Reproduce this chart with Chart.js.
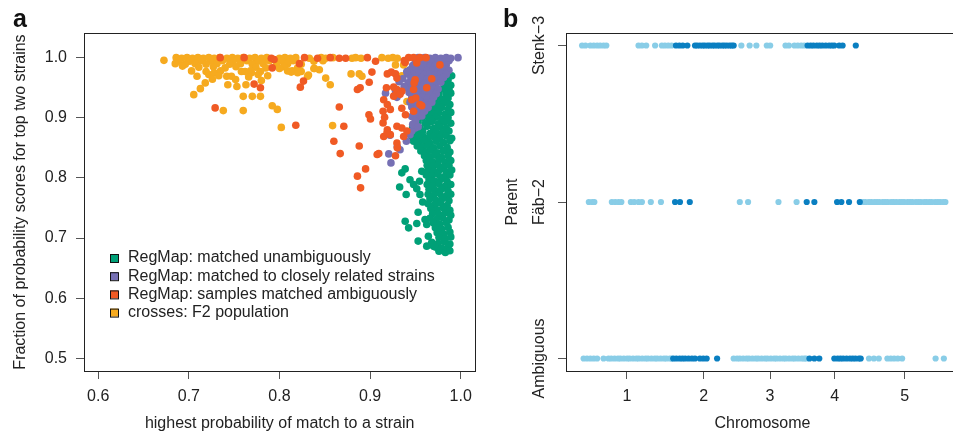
<!DOCTYPE html>
<html>
<head>
<meta charset="utf-8">
<script src="https://cdn.jsdelivr.net/npm/chart.js@4.4.0/dist/chart.umd.min.js"></script>
<style>
  html, body { margin: 0; padding: 0; background: #fff; overflow: hidden; }
  #wrap { position: relative; width: 953px; height: 435px; overflow: hidden; }
  #panelA { position: absolute; left: 0; top: 0; }
  #panelB { position: absolute; left: 480px; top: 0; }
</style>
</head>
<body>
<div id="wrap">
  <canvas id="panelA" width="480" height="435"></canvas>
  <canvas id="panelB" width="482" height="435"></canvas>
</div>
<script>
// ---- panel a: [highest probability, fraction of top two] ----
const unambiguous = [
  [0.990,0.970],[0.986,0.963],[0.983,0.956],[0.989,0.954],[0.980,0.948],[0.987,0.947],
  [0.976,0.941],[0.984,0.939],[0.989,0.941],[0.972,0.933],[0.979,0.931],[0.986,0.933],
  [0.968,0.925],[0.975,0.923],[0.982,0.925],[0.988,0.922],
  [0.965,0.917],[0.972,0.915],[0.979,0.917],[0.986,0.914],
  [0.962,0.909],[0.969,0.907],[0.976,0.909],[0.983,0.906],[0.989,0.909],
  [0.958,0.901],[0.965,0.899],[0.972,0.901],[0.979,0.898],[0.986,0.900],
  [0.953,0.893],[0.961,0.891],[0.968,0.894],[0.975,0.890],[0.982,0.893],[0.989,0.891],
  [0.947,0.885],[0.955,0.883],[0.963,0.886],[0.970,0.882],[0.977,0.885],[0.984,0.883],
  [0.945,0.877],[0.951,0.875],[0.958,0.878],[0.966,0.874],[0.973,0.877],[0.980,0.875],[0.987,0.878],
  [0.946,0.869],[0.952,0.867],[0.958,0.870],[0.964,0.866],[0.970,0.869],[0.977,0.867],[0.984,0.870],[0.990,0.866],
  [0.948,0.861],[0.954,0.859],[0.960,0.862],[0.966,0.858],[0.973,0.861],[0.981,0.859],[0.988,0.862],
  [0.952,0.853],[0.958,0.851],[0.964,0.854],[0.970,0.850],[0.977,0.853],[0.985,0.851],
  [0.956,0.845],[0.962,0.843],[0.968,0.846],[0.974,0.842],[0.981,0.845],[0.988,0.843],
  [0.960,0.837],[0.966,0.835],[0.972,0.838],[0.979,0.834],[0.986,0.837],
  [0.962,0.829],[0.969,0.827],[0.976,0.830],[0.983,0.826],[0.989,0.829],
  [0.963,0.821],[0.969,0.819],[0.975,0.822],[0.981,0.818],[0.987,0.821],
  [0.964,0.813],[0.970,0.811],[0.977,0.814],[0.984,0.810],[0.990,0.813],
  [0.962,0.805],[0.968,0.803],[0.975,0.806],[0.982,0.802],[0.988,0.805],
  [0.965,0.797],[0.971,0.795],[0.978,0.798],[0.985,0.794],
  [0.963,0.789],[0.969,0.787],[0.976,0.790],[0.983,0.786],[0.989,0.789],
  [0.965,0.781],[0.972,0.779],[0.979,0.782],[0.986,0.778],
  [0.964,0.773],[0.970,0.771],[0.977,0.774],[0.984,0.770],[0.989,0.773],
  [0.966,0.765],[0.973,0.763],[0.980,0.766],[0.987,0.762],
  [0.964,0.757],[0.971,0.755],[0.978,0.758],[0.985,0.754],
  [0.967,0.749],[0.974,0.747],[0.981,0.750],[0.988,0.746],
  [0.969,0.741],[0.976,0.739],[0.983,0.742],[0.989,0.738],
  [0.966,0.733],[0.973,0.731],[0.980,0.734],[0.987,0.730],
  [0.970,0.725],[0.977,0.723],[0.984,0.726],
  [0.972,0.717],[0.979,0.715],[0.986,0.718],
  [0.974,0.709],[0.981,0.707],[0.988,0.710],
  [0.976,0.701],[0.983,0.699],[0.989,0.702],
  [0.968,0.693],[0.975,0.691],[0.982,0.694],[0.988,0.690],
  [0.972,0.685],[0.979,0.683],[0.986,0.686],
  [0.976,0.678],[0.983,0.676],[0.988,0.679],
  [0.9387,0.815],[0.935,0.8085],[0.9326,0.785],[0.9398,0.7724],[0.944,0.797],[0.948,0.789],
  [0.9515,0.782],[0.9545,0.7945],[0.955,0.7724],[0.957,0.811],[0.9387,0.728],[0.9425,0.717],
  [0.953,0.743],[0.9515,0.7243],[0.9606,0.731],[0.9625,0.7226],[0.953,0.695],[0.9643,0.703],
  [0.9625,0.6866],[0.970,0.6866],[0.958,0.760]
];
const closelyRelated = [
  [0.953,1.000],[0.960,1.000],[0.966,0.999],[0.972,1.000],[0.978,0.999],[0.984,1.000],[0.989,0.999],[0.997,1.000],
  [0.950,0.994],[0.957,0.993],[0.963,0.995],[0.969,0.993],[0.975,0.994],[0.981,0.993],[0.987,0.995],
  [0.947,0.987],[0.954,0.986],[0.960,0.988],[0.966,0.986],[0.972,0.987],[0.978,0.985],[0.984,0.988],
  [0.944,0.980],[0.951,0.979],[0.957,0.981],[0.963,0.979],[0.969,0.980],[0.975,0.978],[0.981,0.981],[0.987,0.979],
  [0.941,0.973],[0.948,0.972],[0.954,0.974],[0.960,0.972],[0.966,0.973],[0.972,0.971],[0.978,0.974],[0.984,0.972],
  [0.945,0.966],[0.951,0.965],[0.957,0.967],[0.963,0.965],[0.969,0.966],[0.975,0.964],[0.981,0.967],
  [0.942,0.958],[0.948,0.957],[0.954,0.959],[0.960,0.957],[0.966,0.958],[0.972,0.956],[0.978,0.959],
  [0.945,0.950],[0.951,0.949],[0.957,0.951],[0.963,0.949],[0.969,0.950],[0.975,0.948],
  [0.943,0.942],[0.949,0.941],[0.955,0.943],[0.961,0.941],[0.967,0.942],[0.973,0.940],
  [0.946,0.934],[0.952,0.933],[0.958,0.935],[0.964,0.933],[0.970,0.934],
  [0.944,0.926],[0.950,0.925],[0.956,0.927],[0.962,0.925],[0.968,0.926],
  [0.946,0.918],[0.952,0.917],[0.958,0.919],[0.964,0.917],
  [0.948,0.910],[0.954,0.909],[0.960,0.911],
  [0.946,0.902],[0.952,0.901],[0.957,0.903],[0.950,0.894],
  [0.9376,0.952],[0.9405,0.977],[0.936,0.965],[0.917,0.941],[0.9296,0.934],[0.938,0.950],
  [0.922,0.871],[0.9206,0.840],[0.923,0.825],[0.930,0.852],[0.933,0.847],[0.9497,0.883],
  [0.946,0.878],[0.944,0.872],[0.940,0.861],[0.947,0.889],[0.953,0.885],[0.932,0.960],[0.928,0.945]
];
const ambiguousMatch = [
  [0.7346,1.000],[0.761,1.000],[0.791,0.999],[0.794,0.997],[0.8276,1.000],[0.842,0.999],
  [0.856,1.000],[0.866,0.999],[0.873,0.999],[0.897,1.000],[0.906,0.994],[0.9377,0.995],
  [0.9425,1.000],[0.948,1.000],[0.955,1.000],[0.9617,1.000],[0.9515,0.991],[0.9387,0.992],
  [0.792,0.983],[0.822,0.990],[0.8265,0.961],[0.823,0.951],[0.772,0.956],[0.779,0.950],
  [0.729,0.9165],[0.818,0.8875],[0.977,0.988],[0.886,0.947],[0.889,0.950],[0.899,0.959],
  [0.902,0.976],[0.919,0.973],[0.9234,0.976],[0.928,0.973],[0.9296,0.966],[0.918,0.950],
  [0.926,0.951],[0.9296,0.941],[0.935,0.944],[0.915,0.930],[0.919,0.922],[0.9223,0.914],
  [0.9143,0.911],[0.916,0.901],[0.9143,0.8915],[0.919,0.880],[0.9223,0.872],[0.926,0.936],
  [0.9296,0.947],[0.933,0.939],[0.9296,0.886],[0.935,0.883],[0.937,0.869],[0.9406,0.878],
  [0.939,0.905],[0.935,0.916],[0.8987,0.905],[0.9004,0.898],[0.866,0.918],[0.871,0.886],
  [0.860,0.861],[0.867,0.8405],[0.888,0.853],[0.9078,0.839],[0.9096,0.8405],[0.915,0.869],
  [0.9187,0.875],[0.928,0.837],[0.9296,0.858],[0.930,0.850],[0.948,0.947],[0.9497,0.963],
  [0.946,0.930],[0.955,0.922],[0.948,0.911],[0.9625,0.950],[0.968,0.965],[0.957,0.920],
  [0.886,0.803],[0.895,0.815],[0.8895,0.7835],[0.9486,0.958],[0.9504,0.933]
];
const crossesF2 = [
  [0.686,1.000],[0.692,0.999],[0.698,1.000],[0.704,0.999],[0.710,1.000],[0.716,0.999],[0.722,1.000],
  [0.728,0.999],[0.734,1.000],[0.742,0.999],[0.748,1.000],[0.754,0.999],[0.760,1.000],[0.767,0.999],
  [0.773,1.000],[0.780,0.999],[0.786,1.000],[0.800,0.999],[0.806,1.000],[0.812,0.999],[0.818,1.000],
  [0.833,0.999],[0.846,1.000],[0.851,0.999],[0.859,1.000],[0.880,0.999],[0.884,1.000],[0.890,0.999],
  [0.913,1.000],[0.920,0.999],[0.925,1.000],[0.930,0.999],
  [0.6725,0.9955],[0.689,0.995],[0.701,0.994],[0.713,0.995],[0.725,0.994],[0.737,0.995],[0.749,0.994],
  [0.764,0.995],[0.776,0.994],[0.789,0.995],[0.803,0.994],[0.815,0.995],[0.838,0.994],[0.848,0.995],
  [0.685,0.990],[0.696,0.989],[0.707,0.990],[0.719,0.989],[0.731,0.990],[0.745,0.989],[0.757,0.990],
  [0.770,0.989],[0.782,0.990],[0.797,0.989],[0.809,0.990],[0.824,0.989],
  [0.693,0.986],[0.711,0.984],[0.727,0.985],[0.740,0.983],[0.752,0.985],[0.774,0.984],[0.785,0.983],
  [0.805,0.985],[0.820,0.983],[0.838,0.982],
  [0.703,0.978],[0.719,0.977],[0.735,0.978],[0.758,0.977],[0.768,0.978],[0.779,0.977],[0.800,0.982],
  [0.814,0.978],[0.844,0.980],
  [0.709,0.969],[0.7054,0.9385],[0.7127,0.9485],[0.7181,0.958],[0.722,0.972],[0.728,0.975],
  [0.733,0.970],[0.738,0.912],[0.760,0.912],[0.760,0.9357],[0.770,0.9357],[0.779,0.9357],
  [0.743,0.955],[0.753,0.952],[0.763,0.955],[0.780,0.962],[0.792,0.920],[0.7976,0.914],
  [0.802,0.884],[0.824,0.977],[0.8385,0.982],[0.832,0.971],[0.851,0.966],[0.856,0.955],
  [0.879,0.973],[0.888,0.973],[0.891,0.969],[0.8586,0.887],[0.928,0.988],[0.937,0.988],
  [0.9406,0.927],[0.935,0.970],[0.7418,0.969],[0.747,0.969],[0.7516,0.9635],[0.762,0.977],
  [0.769,0.975],[0.7765,0.972],[0.787,0.970],[0.809,0.978],[0.813,0.976],[0.820,0.975],
  [0.831,0.969],[0.726,0.964],[0.766,0.968]
];
const legendLabels = [
  'RegMap: matched unambiguously',
  'RegMap: matched to closely related strains',
  'RegMap: samples matched ambiguously',
  'crosses: F2 population'
];
const xTicksA = [0.6, 0.7, 0.8, 0.9, 1.0];
const yTicksA = [0.5, 0.6, 0.7, 0.8, 0.9, 1.0];

// ---- panel b: genome position (Mb, chromosomes laid end to end) per parent call ----
const parentLabels = ['Ambiguous', 'F\u00e4b\u22122', 'Stenk\u22123'];
const chromMid = [15.2, 40.25, 61.85, 82.9, 105.7];
const chromLabels = ['1', '2', '3', '4', '5'];
const stenkLight = [0.6, 1.7, 3.3, 4.4, 5.5, 6.5, 7.6, 8.5, 19.0, 20.1, 21.5, 24.4, 26.6, 27.6, 28.7, 29.8,
  52.5, 55.2, 57.4, 60.8, 61.9, 66.9, 68.0, 69.8, 70.9, 72.0, 73.0];
const stenkDark = [31.2, 32.3, 33.4, 34.9, 37.4, 38.1, 39.0, 39.9, 40.6, 41.5, 42.2, 43.1, 43.8, 44.7, 45.4,
  46.3, 47.0, 47.8, 48.7, 49.4, 50.0, 74.1, 75.1, 76.0, 77.1, 78.0, 78.9, 80.0, 81.1, 82.0, 82.8, 84.4, 85.5, 89.8];
const fabLight = [2.8, 3.9, 4.6, 10.3, 11.4, 12.5, 13.4, 16.5, 17.6, 19.0, 20.1, 23.0, 26.3, 52.0, 54.7, 64.6, 70.5,
  92.2, 93.0, 94.1, 94.9, 95.9, 96.7, 97.5, 98.6, 99.4, 100.2, 101.3, 102.1, 103.0, 104.0, 104.8, 105.6,
  106.7, 107.5, 108.3, 109.4, 110.2, 111.0, 112.1, 112.9, 113.8, 114.6, 115.7, 116.5, 117.3, 118.3, 119.0];
const fabDark = [30.9, 32.5, 35.7, 73.8, 76.3, 83.7, 85.1, 87.6, 91.1];
const ambLight = [1.1, 2.2, 3.3, 4.4, 5.5, 7.6, 9.2, 10.1, 11.2, 12.3, 13.1, 14.2, 15.3, 16.1, 17.2, 18.3, 19.1,
  20.2, 21.3, 22.1, 23.2, 24.3, 25.1, 26.2, 27.3, 28.1, 29.2, 29.8, 50.0, 51.1, 52.0, 53.1, 54.2, 55.0,
  56.1, 57.2, 58.0, 59.1, 60.2, 61.0, 62.1, 63.2, 64.0, 65.1, 66.2, 67.0, 68.1, 69.2, 70.0, 71.1, 72.2,
  73.0, 73.6, 94.1, 95.7, 97.3, 100.1, 101.2, 102.3, 103.5, 104.9, 115.8, 118.5];
const ambDark = [30.3, 31.3, 32.4, 33.3, 34.2, 35.3, 36.4, 37.4, 39.0, 40.1, 41.2, 44.6, 74.7, 76.3, 77.9,
  82.8, 83.9, 84.8, 85.7, 86.8, 87.9, 88.8, 89.7, 90.8, 91.4];

const FONT = '"Liberation Sans", Arial, Helvetica, sans-serif';
const INK = '#222';
Chart.defaults.font.family = FONT;
Chart.defaults.color = INK;

const groupColors = ['#00A077', '#7670B4', '#F05A24', '#F6AA1F'];
const lightBlue = '#89CDE7';
const darkBlue = '#0A7FC1';

// full box around the plot region plus the panel letter
const framePlugin = {
  id: 'frame',
  afterDraw(chart, args, opts) {
    const { ctx, chartArea: a } = chart;
    ctx.save();
    ctx.strokeStyle = INK;
    ctx.lineWidth = 1;
    ctx.strokeRect(Math.round(a.left) + 0.5, Math.round(a.top) + 0.5,
      Math.round(a.right - a.left), Math.round(a.bottom - a.top));
    ctx.fillStyle = '#111';
    ctx.font = 'bold 25px ' + FONT;
    ctx.textBaseline = 'alphabetic';
    ctx.fillText(opts.letter, opts.letterX, 27);
    ctx.restore();
  }
};

const legendPlugin = {
  id: 'boxLegend',
  afterDraw(chart) {
    const { ctx, chartArea: a } = chart;
    ctx.save();
    ctx.font = '16px ' + FONT;
    ctx.textBaseline = 'middle';
    legendLabels.forEach((txt, i) => {
      const cy = 258 + i * 18.2;
      ctx.fillStyle = groupColors[i];
      ctx.fillRect(a.left + 26, cy - 4, 8, 8);
      ctx.strokeStyle = '#111';
      ctx.lineWidth = 1;
      ctx.strokeRect(a.left + 26.5, cy - 3.5, 8, 8);
      ctx.fillStyle = INK;
      ctx.fillText(txt, a.left + 44, cy);
    });
    ctx.restore();
  }
};

const parentTickPlugin = {
  id: 'parentTicks',
  afterDraw(chart) {
    const { ctx } = chart;
    const y = chart.scales.y;
    ctx.save();
    ctx.font = '16px ' + FONT;
    ctx.fillStyle = INK;
    ctx.textAlign = 'center';
    ctx.textBaseline = 'middle';
    parentLabels.forEach((lab, i) => {
      ctx.save();
      ctx.translate(60, y.getPixelForValue(i));
      ctx.rotate(-Math.PI / 2);
      ctx.fillText(lab, 0, 0);
      ctx.restore();
    });
    ctx.restore();
  }
};

const tickFont = { size: 16, family: FONT };
const titleFont = { size: 16, family: FONT };
function axisBase() {
  return {
    type: 'linear',
    grid: { display: true, drawOnChartArea: false, tickLength: 8, color: '#555', lineWidth: 1 },
    border: { display: false }
  };
}

const toPoints = arr => arr.map(p => ({ x: p[0], y: p[1] }));

// draw order: first dataset ends up on top
new Chart(document.getElementById('panelA'), {
  type: 'scatter',
  data: {
    datasets: [
      { label: legendLabels[2], data: toPoints(ambiguousMatch), backgroundColor: groupColors[2] },
      { label: legendLabels[1], data: toPoints(closelyRelated), backgroundColor: groupColors[1] },
      { label: legendLabels[3], data: toPoints(crossesF2), backgroundColor: groupColors[3] },
      { label: legendLabels[0], data: toPoints(unambiguous), backgroundColor: groupColors[0] }
    ]
  },
  options: {
    responsive: false,
    animation: false,
    devicePixelRatio: 1,
    layout: { padding: { top: 33, right: 1, left: 0, bottom: 0 } },
    elements: { point: { radius: 3.8, borderWidth: 0, hoverRadius: 3.8 } },
    plugins: {
      legend: { display: false },
      tooltip: { enabled: false },
      frame: { letter: 'a', letterX: 13 }
    },
    scales: {
      x: Object.assign(axisBase(), {
        position: 'bottom', min: 0.5843, max: 1.016,
        afterBuildTicks: s => { s.ticks = xTicksA.map(v => ({ value: v })); },
        afterFit: s => { s.height = 64; },
        ticks: { font: tickFont, color: INK, padding: 8, maxRotation: 0, callback: v => v.toFixed(1) },
        title: { display: true, text: 'highest probability of match to a strain', font: titleFont, color: INK, padding: { bottom: 2 } }
      }),
      y: Object.assign(axisBase(), {
        position: 'left', min: 0.479, max: 1.041,
        afterBuildTicks: s => { s.ticks = yTicksA.map(v => ({ value: v })); },
        afterFit: s => { s.width = 84; },
        ticks: { font: tickFont, color: INK, padding: 9, callback: v => v.toFixed(1) },
        title: { display: true, text: 'Fraction of probability scores for top two strains', font: titleFont, color: INK, padding: { top: 11 } }
      })
    }
  },
  plugins: [framePlugin, legendPlugin]
});

const rowPoints = (arr, row) => arr.map(v => ({ x: v, y: row }));

new Chart(document.getElementById('panelB'), {
  type: 'scatter',
  data: {
    datasets: [
      { data: rowPoints(stenkDark, 2), backgroundColor: darkBlue },
      { data: rowPoints(fabDark, 1), backgroundColor: darkBlue },
      { data: rowPoints(ambDark, 0), backgroundColor: darkBlue },
      { data: rowPoints(stenkLight, 2), backgroundColor: lightBlue },
      { data: rowPoints(fabLight, 1), backgroundColor: lightBlue },
      { data: rowPoints(ambLight, 0), backgroundColor: lightBlue }
    ]
  },
  options: {
    responsive: false,
    animation: false,
    devicePixelRatio: 1,
    layout: { padding: { top: 33, right: 2, left: 0, bottom: 0 } },
    elements: { point: { radius: 3.1, borderWidth: 0, hoverRadius: 3.1 } },
    plugins: {
      legend: { display: false },
      tooltip: { enabled: false },
      frame: { letter: 'b', letterX: 23 }
    },
    scales: {
      x: Object.assign(axisBase(), {
        position: 'bottom', min: -4.64, max: 123.4,
        afterBuildTicks: s => { s.ticks = chromMid.map(v => ({ value: v })); },
        afterFit: s => { s.height = 64; },
        ticks: {
          font: tickFont, color: INK, padding: 8, maxRotation: 0, autoSkip: false,
          callback: (v, i) => chromLabels[i]
        },
        title: { display: true, text: 'Chromosome', font: titleFont, color: INK, padding: { bottom: 2 } }
      }),
      y: Object.assign(axisBase(), {
        position: 'left', min: -0.08, max: 2.08,
        afterBuildTicks: s => { s.ticks = parentLabels.map((l, i) => ({ value: i })); },
        afterFit: s => { s.width = 86; },
        ticks: { display: false },
        title: { display: true, text: 'Parent', font: titleFont, color: INK, padding: { top: 23 } }
      })
    }
  },
  plugins: [framePlugin, parentTickPlugin]
});
</script>
</body>
</html>
